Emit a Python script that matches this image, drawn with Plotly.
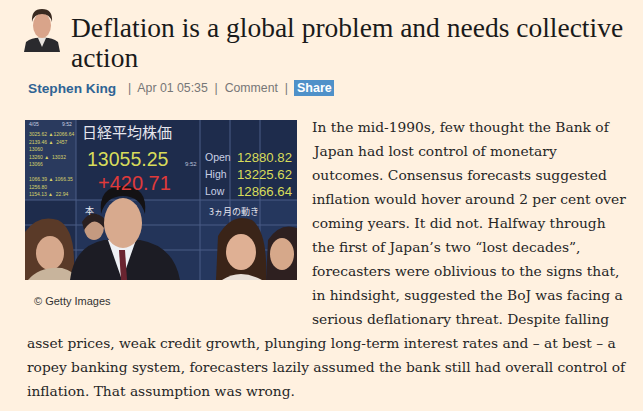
import plotly.graph_objects as go

# page content
title_lines = ["Deflation is a global problem and needs collective", "action"]
author = "Stephen King"
meta = "|  Apr 01 05:35  |  Comment  |"
share_label = "Share"
caption = "© Getty Images"

body_narrow = [
    "In the mid-1990s, few thought the Bank of",
    "Japan had lost control of monetary",
    "outcomes. Consensus forecasts suggested",
    "inflation would hover around 2 per cent over",
    "coming years. It did not. Halfway through",
    "the first of Japan’s two “lost decades”,",
    "forecasters were oblivious to the signs that,",
    "in hindsight, suggested the BoJ was facing a",
    "serious deflationary threat. Despite falling",
]
body_wide = [
    "asset prices, weak credit growth, plunging long-term interest rates and – at best – a",
    "ropey banking system, forecasters lazily assumed the bank still had overall control of",
    "inflation. That assumption was wrong.",
]

# stock board in the photo
board_title = "日経平均株価"
index_value = "13055.25"
index_change = "+420.71"
board_labels = ["Open", "High", "Low"]
board_values = ["12880.82", "13225.62", "12866.64"]
left_rows = ["3025.62 ▲12066.64", "2139.46 ▲  2457", "13060", "13260 ▲  13032", "13066", "", "1066.39 ▲ 1066.35", "1256.80", "1154.13 ▲  22.94"]

BG = "#fff1e0"
SERIF = "DejaVu Serif, Liberation Serif, serif"
TITLE_SERIF = "Liberation Serif, DejaVu Serif, serif"
SANS = "Liberation Sans, Arial, sans-serif"

fig = go.Figure()
fig.add_trace(go.Scatter(x=[0, 643], y=[0, 411], mode="markers", marker=dict(opacity=0), hoverinfo="skip"))

shapes = []
ann = []

def rect(x0, y0, x1, y1, color, line=None):
    shapes.append(dict(type="rect", x0=x0, y0=y0, x1=x1, y1=y1, fillcolor=color,
                       line=dict(width=0) if line is None else line, layer="below"))

def oval(x0, y0, x1, y1, color):
    shapes.append(dict(type="circle", x0=x0, y0=y0, x1=x1, y1=y1, fillcolor=color,
                       line=dict(width=0), layer="below"))

def path(d, color):
    shapes.append(dict(type="path", path=d, fillcolor=color, line=dict(width=0), layer="below"))

def text(x, y, s, size, color, font=SERIF, anchor="left", bold=False):
    if bold:
        s = "<b>" + s + "</b>"
    ann.append(dict(x=x, y=y, text=s, showarrow=False, xanchor=anchor, yanchor="middle",
                    font=dict(family=font, size=size, color=color)))

# author headshot
path("M 24 52 L 26 42 Q 33 37 42 38 Q 51 37 58 42 L 60 52 Z", "#2a2a2e")
path("M 38 38 L 42 47 L 46 38 Z", "#e8e4e0")
oval(33, 13, 51, 38, "#d9a48a")
path("M 32 22 Q 31 9 42 9 Q 53 9 52 22 Q 50 14 42 14 Q 34 14 32 22 Z", "#3a2a20")

# headline
text(69, 27, title_lines[0], 27.5, "#1a1a1a", font=TITLE_SERIF)
text(69, 57, title_lines[1], 27.5, "#1a1a1a", font=TITLE_SERIF)

# byline
text(26, 88, author, 13.7, "#2f6494", font=SANS, bold=True)
text(126, 88, meta, 12.3, "#777777", font=SANS)
rect(294, 80, 334, 96, "#4f91c9")
text(314, 88, share_label, 12.5, "#ffffff", font=SANS, anchor="center", bold=True)

# photo: board background
rect(25, 120, 297, 280, "#1e2c4c")
rect(25, 120, 76, 200, "#2a3a5e")
rect(200, 200, 297, 280, "#25375e")
rect(76, 200, 200, 280, "#233459")
for gx in [76, 200, 230, 260]:
    shapes.append(dict(type="line", x0=gx, y0=120, x1=gx, y1=280, line=dict(color="#4a5c86", width=1), layer="below"))
for gy in [200, 225, 250]:
    shapes.append(dict(type="line", x0=25, y0=gy, x1=297, y1=gy, line=dict(color="#4a5c86", width=1), layer="below"))

CJK = "Noto Sans CJK JP"
text(27, 124, "4/05", 5, "#c9d0e0", font=SANS)
text(60, 124, "9:52", 5, "#c9d0e0", font=SANS)
for i, row in enumerate(left_rows):
    text(27, 134 + i * 7.5, row, 5, "#d7d36a", font=SANS)
text(80, 131, board_title, 15, "#e6e6ee", font=CJK)
text(85, 159, index_value, 19.5, "#d8dc5a", font=SANS)
text(183, 164, "9:52", 6, "#b8c0d8", font=SANS)
text(96, 183, index_change, 20, "#e03a3a", font=SANS)
for i, (lab, val) in enumerate(zip(board_labels, board_values)):
    yy = 157 + i * 17
    text(203, yy, lab, 10.5, "#c9d0e6", font=SANS)
    text(235, yy, val, 13.2, "#d8dc5a", font=SANS)
text(83, 210, "本", 9, "#e6e6ee", font=CJK)
text(207, 211, "3ヵ月の動き", 9, "#e6e6ee", font=CJK)

# photo: people
# left woman
path("M 25 280 L 25 232 Q 38 214 58 220 Q 74 228 74 262 L 76 280 Z", "#5a3a28")
oval(36, 236, 64, 270, "#d6a88c")
path("M 28 280 Q 40 266 62 268 Q 76 272 78 280 Z", "#c8b49c")
# background person
oval(84, 214, 104, 240, "#c49a80")
path("M 82 222 Q 92 206 106 220 L 104 228 Q 94 214 84 230 Z", "#2a2020")
# right women
path("M 216 280 L 218 236 Q 232 212 252 220 Q 268 232 266 280 Z", "#3a2418")
oval(226, 234, 256, 270, "#dfb094")
path("M 222 280 Q 240 268 262 280 Z", "#e8e0d8")
path("M 266 280 L 268 240 Q 280 222 297 228 L 297 280 Z", "#2e2020")
oval(270, 238, 294, 270, "#d6a88a")
# centre man
path("M 70 280 Q 74 246 104 240 L 140 240 Q 174 246 180 280 Z", "#1c1c24")
path("M 108 240 L 122 280 L 136 240 Z", "#eef0f4")
path("M 119 250 L 121 280 L 127 280 L 125 250 Z", "#6a2430")
oval(104, 198, 142, 248, "#d8aa8e")
path("M 101 214 Q 98 186 123 186 Q 148 186 145 214 Q 140 196 123 196 Q 106 196 101 214 Z", "#141214")

text(32, 301, caption, 11, "#333333", font=SANS)

# body copy
for i, line in enumerate(body_narrow):
    text(310, 127 + i * 24, line, 13.8, "#262626")
for i, line in enumerate(body_wide):
    text(25, 343 + i * 24, line, 13.8, "#262626")

fig.update_layout(
    width=643, height=411,
    margin=dict(l=0, r=0, t=0, b=0),
    paper_bgcolor=BG, plot_bgcolor=BG,
    xaxis=dict(range=[0, 643], visible=False, fixedrange=True),
    yaxis=dict(range=[411, 0], visible=False, fixedrange=True),
    showlegend=False,
    shapes=shapes,
    annotations=ann,
)

fig.write_html("out.html", config={"displayModeBar": False},
               post_script="document.body.style.margin='0';document.body.style.background='%s';" % BG)
